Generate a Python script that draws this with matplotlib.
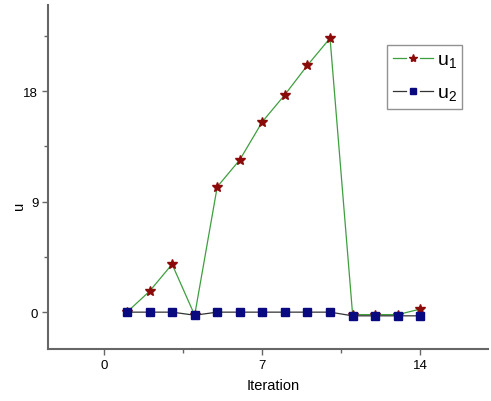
import matplotlib
matplotlib.use("Agg")
import matplotlib.pyplot as plt
from matplotlib.lines import Line2D
from matplotlib.legend_handler import HandlerBase
from matplotlib.ticker import MultipleLocator

plt.rcParams['font.family'] = ['Liberation Sans', 'DejaVu Sans']
plt.rcParams['mathtext.fontset'] = 'custom'
plt.rcParams['mathtext.rm'] = 'Liberation Sans'

iterations = [1, 2, 3, 4, 5, 6, 7, 8, 9, 10, 11, 12, 13, 14]
u1 = [0.0, 1.7, 3.9, -0.25, 10.2, 12.4, 15.5, 17.7, 20.1, 22.3, -0.2, -0.2, -0.2, 0.25]
u2 = [0.0, 0.0, 0.0, -0.25, 0.0, 0.0, 0.0, 0.0, 0.0, 0.0, -0.3, -0.3, -0.3, -0.3]


class GapHandler(HandlerBase):
    # line - marker - line, with gaps around the marker (Origin style)
    def create_artists(self, legend, orig, xdescent, ydescent, width, height,
                       fontsize, trans):
        y = height / 2 - ydescent
        x0 = -xdescent
        seg = width * 0.32
        kw = dict(color=orig.get_color(), lw=orig.get_linewidth(), transform=trans)
        left = Line2D([x0, x0 + seg], [y, y], **kw)
        right = Line2D([x0 + width - seg, x0 + width], [y, y], **kw)
        mark = Line2D([x0 + width / 2], [y], ls='none', marker=orig.get_marker(),
                      ms=orig.get_markersize(), mfc=orig.get_markerfacecolor(),
                      mec=orig.get_markeredgecolor(), transform=trans)
        return [left, right, mark]


fig = plt.figure(figsize=(4.91, 4.02), dpi=100)
ax = fig.add_axes([48 / 491, 52 / 402, 440 / 491, 344 / 402])

ax.plot(iterations, u1, color='#3f9f3f', lw=0.9, marker='*', ms=7.5,
        mfc='#8b0a0a', mec='#8b0a0a', zorder=2)
ax.plot(iterations, u2, color='#333333', lw=0.9, marker='s', ms=5.5,
        mfc='#0a0a80', mec='#0a0a80', zorder=3)

ax.set_xlim(-2.5, 17)
ax.set_ylim(-3, 25)
ax.xaxis.set_major_locator(MultipleLocator(7))
ax.xaxis.set_minor_locator(MultipleLocator(3.5))
ax.yaxis.set_major_locator(MultipleLocator(9))
ax.yaxis.set_minor_locator(MultipleLocator(4.5))

for side in ['top', 'right']:
    ax.spines[side].set_visible(False)
for side in ['left', 'bottom']:
    ax.spines[side].set_color('#666666')
    ax.spines[side].set_linewidth(1.5)

ax.tick_params(which='major', direction='out', length=4, width=1, color='#666666',
               labelsize=9.5, pad=3)
ax.tick_params(which='minor', direction='out', length=3, width=1, color='#666666')

ax.set_xlabel("Iteration", fontsize=10.5)
ax.set_ylabel("u", fontsize=10.5)
ax.xaxis.set_label_coords(0.511, -0.085)
ax.yaxis.set_label_coords(-0.049, 0.42)

h1 = Line2D([], [], color='#3f9f3f', lw=0.9, marker='*', ms=6,
            mfc='#8b0a0a', mec='#8b0a0a')
h2 = Line2D([], [], color='#333333', lw=0.9, marker='s', ms=4,
            mfc='#0a0a80', mec='#0a0a80')
leg = fig.legend([h1, h2], [r'u$_1$', r'u$_2$'], loc='upper left',
                 bbox_to_anchor=(387 / 491, 1 - 46 / 402), fontsize=14,
                 handler_map={Line2D: GapHandler()},
                 frameon=True, fancybox=False, handlelength=2.05, handletextpad=0.2,
                 borderpad=0.3, labelspacing=0.75, borderaxespad=0)
leg.get_frame().set_edgecolor('#777777')
leg.get_frame().set_linewidth(1.0)

fig.savefig("out.png", dpi=100)
plt.close(fig)
